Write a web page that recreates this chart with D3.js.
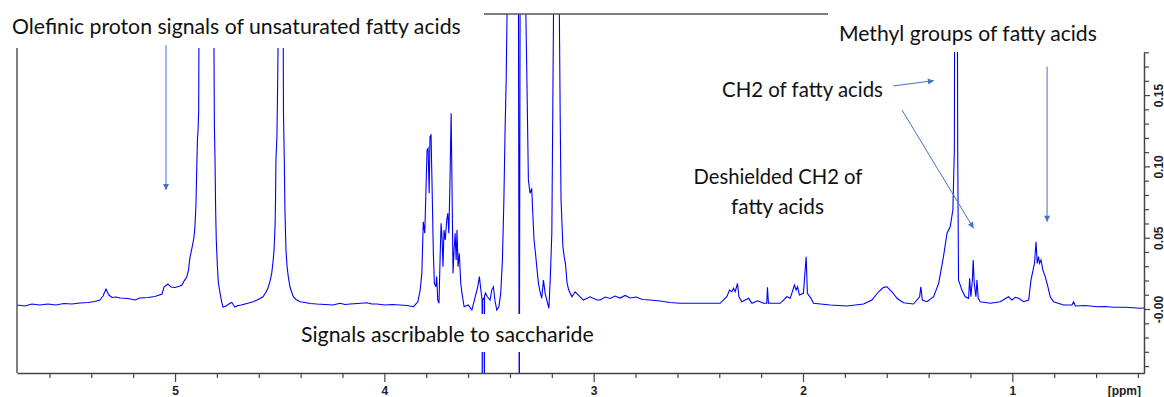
<!DOCTYPE html>
<html>
<head>
<meta charset="utf-8">
<script src="https://cdn.jsdelivr.net/npm/d3@7"></script>
<style>
  body { margin: 0; background: #fff; }
  svg { display: block; }
</style>
</head>
<body>
<div id="chart"></div>
<script>
// spectrum: [chemical shift (ppm), intensity]
var spectrum = [
  [5.755,0.0028],[5.717,0.0021],[5.684,0.0035],[5.646,0.0028],[5.607,0.0035],[5.569,0.0028],
  [5.531,0.0039],[5.493,0.0035],[5.454,0.0042],[5.416,0.0046],[5.383,0.0053],[5.359,0.0063],
  [5.344,0.0091],[5.330,0.0140],[5.316,0.0098],[5.301,0.0081],[5.282,0.0084],[5.263,0.0077],
  [5.225,0.0074],[5.191,0.0063],[5.168,0.0077],[5.129,0.0081],[5.096,0.0088],[5.062,0.0105],
  [5.053,0.0154],[5.034,0.0175],[5.019,0.0154],[5.000,0.0151],[4.976,0.0161],[4.967,0.0168],
  [4.957,0.0196],[4.944,0.0224],[4.936,0.0273],[4.929,0.0358],[4.919,0.0428],[4.910,0.0498],
  [4.905,0.0575],[4.900,0.0729],[4.897,0.0940],[4.893,0.1185],[4.890,0.1255],[4.887,0.1395],
  [4.886,0.1830],[4.884,0.26],[4.816,0.26],[4.814,0.1830],[4.812,0.1283],[4.809,0.1045],
  [4.806,0.0694],[4.803,0.0484],[4.798,0.0309],[4.793,0.0182],[4.785,0.0112],[4.778,0.0056],
  [4.771,0.0014],[4.761,0.0018],[4.749,0.0028],[4.740,0.0039],[4.729,0.0046],[4.721,0.0028],
  [4.714,0.0014],[4.699,0.0025],[4.685,0.0028],[4.666,0.0035],[4.647,0.0042],[4.628,0.0051],
  [4.608,0.0063],[4.594,0.0074],[4.580,0.0086],[4.565,0.0119],[4.556,0.0147],[4.546,0.0196],
  [4.538,0.0252],[4.532,0.0330],[4.527,0.0414],[4.522,0.0589],[4.520,0.0764],[4.518,0.1045],
  [4.513,0.1220],[4.510,0.1571],[4.508,0.1830],[4.506,0.26],[4.484,0.26],[4.483,0.1830],
  [4.482,0.1374],[4.478,0.1045],[4.475,0.0694],[4.470,0.0414],[4.465,0.0302],[4.459,0.0227],
  [4.451,0.0156],[4.443,0.0119],[4.435,0.0086],[4.422,0.0067],[4.403,0.0051],[4.379,0.0046],
  [4.355,0.0039],[4.323,0.0035],[4.283,0.0032],[4.245,0.0028],[4.212,0.0040],[4.188,0.0032],
  [4.164,0.0035],[4.126,0.0039],[4.084,0.0044],[4.059,0.0035],[4.036,0.0035],[3.997,0.0028],
  [3.963,0.0032],[3.925,0.0028],[3.892,0.0025],[3.861,0.0016],[3.840,0.0051],[3.829,0.0133],
  [3.821,0.0250],[3.814,0.0612],[3.807,0.0531],[3.796,0.1115],[3.791,0.1127],[3.786,0.0811],
  [3.782,0.1208],[3.777,0.1220],[3.772,0.0858],[3.766,0.0391],[3.761,0.0180],[3.754,0.0156],
  [3.750,0.0227],[3.745,0.0063],[3.739,0.0040],[3.734,0.0344],[3.729,0.0601],[3.724,0.0484],
  [3.720,0.0297],[3.715,0.0554],[3.709,0.0484],[3.702,0.0624],[3.697,0.0671],[3.692,0.0531],
  [3.687,0.0858],[3.681,0.1372],[3.676,0.0764],[3.672,0.0250],[3.667,0.0414],[3.662,0.0531],
  [3.657,0.0344],[3.653,0.0554],[3.648,0.0297],[3.642,0.0391],[3.635,0.0180],[3.629,0.0110],
  [3.619,0.0016],[3.599,0.0028],[3.582,-0.0007],[3.570,0.0063],[3.554,0.0156],[3.546,0.0227],
  [3.539,0.0133],[3.533,0.0063],[3.5322,-0.08],[3.5315,0.0063],[3.523,0.0080],[3.5222,-0.08],
  [3.5215,0.0090],[3.517,0.0112],
  [3.508,0.0086],[3.495,0.0063],[3.487,0.0133],[3.479,0.0156],[3.472,0.0063],[3.463,-0.0007],
  [3.453,0.0016],[3.444,0.0110],[3.436,0.0344],[3.429,0.0764],[3.423,0.1278],[3.418,0.1606],
  [3.414,0.2069],[3.411,0.26],[3.360,0.26],[3.3557,-0.08],[3.3553,-0.08],[3.351,0.26],
  [3.326,0.26],[3.324,0.2069],[3.320,0.1699],[3.312,0.0905],[3.304,0.0811],[3.296,0.0846],
  [3.291,0.0671],[3.285,0.0484],[3.278,0.0391],[3.272,0.0297],[3.264,0.0180],[3.256,0.0121],
  [3.248,0.0075],[3.240,0.0203],[3.232,0.0110],[3.224,0.0063],[3.214,0.0005],[3.207,0.0227],
  [3.200,0.0531],[3.195,0.1466],[3.192,0.2069],[3.190,0.26],[3.165,0.26],[3.164,0.2069],
  [3.160,0.1349],[3.156,0.0764],[3.147,0.0437],[3.141,0.0367],[3.135,0.0320],[3.127,0.0180],
  [3.119,0.0133],[3.104,0.0086],[3.089,0.0121],[3.073,0.0098],[3.049,0.0063],[3.017,0.0086],
  [2.985,0.0063],[2.969,0.0063],[2.945,0.0084],[2.921,0.0074],[2.898,0.0091],[2.874,0.0077],
  [2.850,0.0095],[2.826,0.0077],[2.797,0.0084],[2.768,0.0067],[2.730,0.0063],[2.682,0.0056],
  [2.635,0.0046],[2.587,0.0040],[2.491,0.0040],[2.396,0.0040],[2.364,0.0086],[2.351,0.0133],
  [2.340,0.0121],[2.332,0.0145],[2.324,0.0121],[2.313,0.0180],[2.306,0.0086],[2.292,0.0051],
  [2.260,0.0075],[2.244,0.0040],[2.217,0.0058],[2.189,0.0040],[2.173,0.0040],[2.170,0.0152],
  [2.165,0.0040],[2.109,0.0040],[2.077,0.0086],[2.061,0.0075],[2.041,0.0168],[2.033,0.0133],
  [2.026,0.0156],[2.017,0.0098],[1.998,0.0110],[1.985,0.0367],[1.979,0.0110],[1.962,0.0075],
  [1.950,0.0040],[1.870,0.0028],[1.790,0.0021],[1.711,0.0035],[1.671,0.0063],[1.639,0.0121],
  [1.615,0.0152],[1.599,0.0156],[1.575,0.0121],[1.551,0.0075],[1.520,0.0044],[1.472,0.0035],
  [1.443,0.0086],[1.437,0.0156],[1.430,0.0063],[1.408,0.0051],[1.376,0.0086],[1.352,0.0180],
  [1.329,0.0367],[1.312,0.0531],[1.297,0.0577],[1.284,0.0694],[1.277,0.1115],[1.276,0.1802],
  [1.275,0.21],[1.263,0.21],[1.262,0.1802],[1.261,0.1115],[1.257,0.0203],[1.241,0.0133],
  [1.225,0.0086],[1.209,0.0075],[1.204,0.0215],[1.198,0.0086],[1.191,0.0203],[1.187,0.0344],
  [1.182,0.0180],[1.174,0.0086],[1.169,0.0203],[1.163,0.0075],[1.153,0.0051],[1.105,0.0040],
  [1.058,0.0051],[1.018,0.0086],[1.002,0.0063],[0.986,0.0082],[0.970,0.0075],[0.946,0.0051],
  [0.922,0.0063],[0.911,0.0203],[0.901,0.0273],[0.894,0.0320],[0.887,0.0472],[0.881,0.0320],
  [0.875,0.0367],[0.870,0.0320],[0.863,0.0344],[0.854,0.0273],[0.843,0.0227],[0.830,0.0156],
  [0.819,0.0086],[0.803,0.0051],[0.755,0.0028],[0.715,0.0028],[0.707,0.0051],[0.699,0.0021],
  [0.651,0.0025],[0.595,0.0016],[0.556,0.0018],[0.516,0.0012],[0.460,0.0012],[0.389,0.0005],
  [0.371,0.0007]
];

// axis ticks
var ppmMajor = [5, 4, 3, 2, 1];
var ppmMinor = [5.6, 5.4, 5.2, 4.8, 4.6, 4.4, 4.2, 3.8, 3.6, 3.4, 3.2, 2.8, 2.6, 2.4, 2.2,
                1.8, 1.6, 1.4, 1.2, 0.8, 0.6, 0.4];
var intensityMajor = [0.15, 0.10, 0.05, 0.00];
var intensityLabels = ["0.15", "0.10", "0.05", "-0.00"];
var intensityMinor = [0.18, 0.17, 0.16, 0.14, 0.13, 0.12, 0.11, 0.09, 0.08, 0.07, 0.06,
                      0.04, 0.03, 0.02, 0.01, -0.01, -0.02, -0.03, -0.04];

// annotations
var noteText = ["Olefinic proton signals of unsaturated fatty acids",
                "Methyl groups of fatty acids",
                "CH2 of fatty acids",
                "Deshielded CH2 of",
                "fatty acids",
                "Signals ascribable to saccharide"];
// arrows: [from ppm, from intensity, to ppm, to intensity]
var arrows = [[5.043, 0.1851, 5.043, 0.0835],
              [1.569, 0.1564, 1.375, 0.1601],
              [1.527, 0.1395, 1.185, 0.0566],
              [0.834, 0.1699, 0.834, 0.0612]];

var width = 1164, height = 397;
var svg = d3.select("#chart").append("svg")
    .attr("width", width).attr("height", height);

var x = d3.scaleLinear().domain([5.755, 0.371]).range([17, 1144]);
var y = d3.scaleLinear().domain([-0.045, 0.18]).range([373.2, 52.3]);

var defs = svg.append("defs");
defs.append("clipPath").attr("id", "plotclip")
  .append("rect").attr("x", 17).attr("y", 14).attr("width", 1127).attr("height", 359);
defs.append("marker")
    .attr("id", "head")
    .attr("viewBox", "0 0 10 10")
    .attr("refX", 10).attr("refY", 5)
    .attr("markerWidth", 9).attr("markerHeight", 6)
    .attr("markerUnits", "userSpaceOnUse")
    .attr("orient", "auto")
  .append("path")
    .attr("d", "M0,0L10,5L0,10z")
    .attr("fill", "#4472c4");

// spectrum
svg.append("path")
    .datum(spectrum)
    .attr("clip-path", "url(#plotclip)")
    .attr("fill", "none")
    .attr("stroke", "#0000ff")
    .attr("stroke-width", 1.1)
    .attr("d", d3.line().x(function(d) { return x(d[0]); }).y(function(d) { return y(d[1]); }));

// text boxes have white fill and hide what runs under them
var boxes = [[0, 0, 482, 48], [830, 0, 280, 52], [296, 314, 304, 38]];
svg.append("g").selectAll("rect").data(boxes).enter().append("rect")
    .attr("x", function(d) { return d[0]; })
    .attr("y", function(d) { return d[1]; })
    .attr("width", function(d) { return d[2]; })
    .attr("height", function(d) { return d[3]; })
    .attr("fill", "#fff");

// frame lines
svg.append("line").attr("x1", 484).attr("x2", 828).attr("y1", 14).attr("y2", 14)
    .attr("stroke", "#555").attr("stroke-width", 1.5);
svg.append("line").attr("x1", 17).attr("x2", 17).attr("y1", 48).attr("y2", 373)
    .attr("stroke", "#555").attr("stroke-width", 1.5);

// bottom axis
var gxMinor = svg.append("g").attr("transform", "translate(0,373)")
    .call(d3.axisBottom(x).tickValues(ppmMinor).tickSize(5).tickFormat("").tickSizeOuter(0));
gxMinor.select(".domain").remove();
var gx = svg.append("g").attr("transform", "translate(0,373)")
    .call(d3.axisBottom(x).tickValues(ppmMajor).tickSize(9).tickPadding(4)
      .tickFormat(d3.format("d")).tickSizeOuter(0));
svg.append("text").attr("x", 1141).attr("y", 394.5).attr("text-anchor", "end")
    .attr("font-family", "Liberation Sans, Arial, sans-serif").attr("font-weight", "bold")
    .attr("font-size", 12).attr("fill", "#222").text("[ppm]");

// right axis
var gyMinor = svg.append("g").attr("transform", "translate(1144,0)")
    .call(d3.axisRight(y).tickValues(intensityMinor).tickSize(5).tickFormat("").tickSizeOuter(0));
gyMinor.select(".domain").remove();
var gy = svg.append("g").attr("transform", "translate(1144,0)")
    .call(d3.axisRight(y).tickValues(intensityMajor).tickSize(6)
      .tickFormat(function(d, i) { return intensityLabels[i]; }).tickSizeOuter(0));
gy.selectAll(".tick text")
    .attr("x", 0).attr("dy", 0)
    .attr("text-anchor", "middle")
    .attr("transform", "translate(18.5,0) rotate(-90)");

[gxMinor, gx, gyMinor, gy].forEach(function(g) {
  g.attr("font-family", "Liberation Sans, Arial, sans-serif")
   .attr("font-weight", "bold").attr("font-size", 12);
  g.selectAll("line").attr("stroke", "#444").attr("stroke-width", 1.2);
  g.selectAll(".domain").attr("stroke", "#444").attr("stroke-width", 1.5);
  g.selectAll("text").attr("fill", "#222");
});

// arrows
svg.append("g").selectAll("line").data(arrows).enter().append("line")
    .attr("x1", function(d) { return x(d[0]); })
    .attr("y1", function(d) { return y(d[1]); })
    .attr("x2", function(d) { return x(d[2]); })
    .attr("y2", function(d) { return y(d[3]); })
    .attr("stroke", "#4472c4")
    .attr("stroke-width", 1)
    .attr("marker-end", "url(#head)");

// annotation text: [x, baseline y, anchor, width on the picture]
var noteLayout = [[12, 34, "start", 449],
                  [839, 40.5, "start", 258],
                  [722, 96.5, "start", 161],
                  [778, 183.5, "middle", 169],
                  [777.5, 213.5, "middle", 93],
                  [301, 341.5, "start", 293]];
noteText.forEach(function(t, i) {
  var L = noteLayout[i];
  var el = svg.append("text")
      .attr("x", L[0]).attr("y", L[1])
      .attr("text-anchor", L[2])
      .attr("font-family", "Lato, 'Open Sans', sans-serif")
      .attr("font-size", 20)
      .attr("fill", "#111")
      .text(t);
  var w = el.node().getComputedTextLength();
  el.attr("font-size", 20 * L[3] / w);
});
</script>
</body>
</html>
